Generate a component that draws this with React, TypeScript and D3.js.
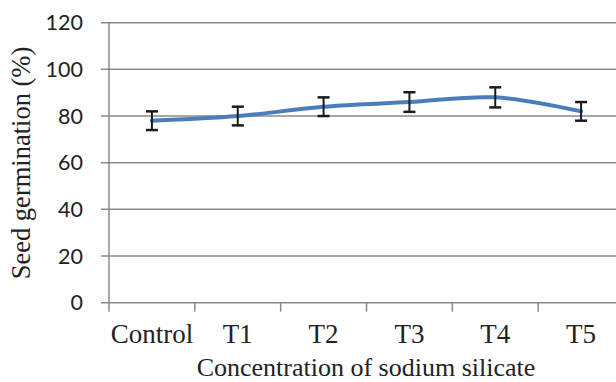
import * as d3 from "d3";

const categories = ["Control", "T1", "T2", "T3", "T4", "T5"];
const germination = [78, 80, 84, 86, 88, 82];
const errors = [4, 4, 4, 4.2, 4.3, 4];
const yTicks = [0, 20, 40, 60, 80, 100, 120];

const W = 616;
const H = 382;
const margin = { top: 22.7, right: -8, bottom: 79.3, left: 109 };

const App = () => {
  const x = d3
    .scaleBand<string>()
    .domain(categories)
    .range([margin.left, W - margin.right]);
  const y = d3
    .scaleLinear()
    .domain([0, 120])
    .range([H - margin.bottom, margin.top]);

  const cx = (c: string) => (x(c) as number) + x.bandwidth() / 2;

  const line = d3
    .line<number>()
    .x((_, i) => cx(categories[i]))
    .y((d) => y(d))
    .curve(d3.curveCatmullRom.alpha(0.5));

  const boundaries = [...categories.map((c) => x(c) as number), W - margin.right];

  return (
    <svg
      width={W}
      height={H}
      style={{ position: "absolute", left: 0, top: 0, background: "#fff" }}
    >
      {/* gridlines + y ticks */}
      {yTicks.map((t) => (
        <g key={t}>
          <line
            x1={margin.left - 8}
            x2={W}
            y1={y(t)}
            y2={y(t)}
            stroke="#8a8a8a"
            strokeWidth={1.5}
          />
          <text
            x={83}
            y={y(t)}
            dy="0.36em"
            textAnchor="end"
            fontFamily="Lato, 'Open Sans', sans-serif"
            fontSize={21.5}
            fill="#222"
          >
            {t}
          </text>
        </g>
      ))}

      {/* y axis line */}
      <line
        x1={margin.left}
        x2={margin.left}
        y1={y(120)}
        y2={y(0)}
        stroke="#8a8a8a"
        strokeWidth={1.5}
      />

      {/* x ticks */}
      {boundaries.map((b, i) => (
        <line
          key={i}
          x1={b}
          x2={b}
          y1={y(0)}
          y2={y(0) + 9}
          stroke="#8a8a8a"
          strokeWidth={1.5}
        />
      ))}

      {/* category labels */}
      {categories.map((c) => (
        <text
          key={c}
          x={cx(c)}
          y={342.5}
          textAnchor="middle"
          fontFamily="'Liberation Serif', 'DejaVu Serif', serif"
          fontSize={27}
          fill="#222"
        >
          {c}
        </text>
      ))}

      {/* series line */}
      <path
        d={line(germination) ?? ""}
        fill="none"
        stroke="#4a7ebb"
        strokeWidth={4}
        strokeLinecap="round"
        strokeLinejoin="round"
      />

      {/* error bars */}
      {germination.map((v, i) => {
        const px = cx(categories[i]);
        const top = y(v + errors[i]);
        const bot = y(v - errors[i]);
        return (
          <g key={i} stroke="#1a1a1a" strokeWidth={2}>
            <line x1={px} x2={px} y1={top} y2={bot} />
            <line x1={px - 6} x2={px + 6} y1={top} y2={top} strokeWidth={2.5} />
            <line x1={px - 6} x2={px + 6} y1={bot} y2={bot} strokeWidth={2.5} />
          </g>
        );
      })}

      {/* axis titles */}
      <text
        x={366}
        y={376}
        textAnchor="middle"
        fontFamily="'Liberation Serif', 'DejaVu Serif', serif"
        fontSize={26}
        fill="#222"
      >
        Concentration of sodium silicate
      </text>
      <text
        transform={`translate(30,163) rotate(-90)`}
        textAnchor="middle"
        fontFamily="'Liberation Serif', 'DejaVu Serif', serif"
        fontSize={26.5}
        fill="#222"
      >
        Seed germination (%)
      </text>
    </svg>
  );
};

export default App;
